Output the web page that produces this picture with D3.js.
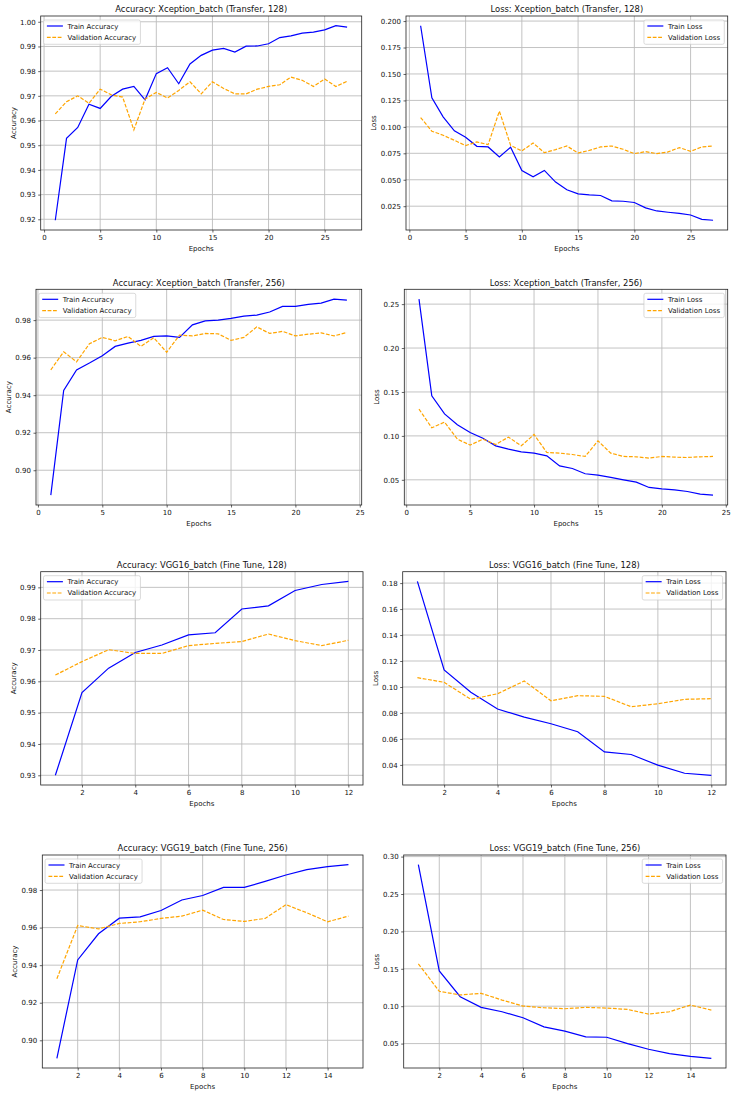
<!DOCTYPE html>
<html>
<head>
<meta charset="utf-8">
<script src="https://cdn.jsdelivr.net/npm/d3@7/dist/d3.min.js"></script>
<style>
  body { margin: 0; background: #fff; }
  text { font-family: "DejaVu Sans", sans-serif; fill: #111; }
</style>
</head>
<body>
<svg id="chart" width="732" height="1096"></svg>
<script>
// ---- values (epoch i+1 -> index i) ----
const xcT128TrainAcc = [0.9196, 0.9528, 0.9572, 0.9666, 0.9649, 0.9698, 0.9727, 0.9738, 0.9684, 0.9790, 0.9814, 0.9749, 0.9829, 0.9864, 0.9885, 0.9892, 0.9877, 0.9901, 0.9902, 0.9911, 0.9936, 0.9943, 0.9954, 0.9958, 0.9967, 0.9984, 0.9978];
const xcT128ValAcc   = [0.9627, 0.9676, 0.9700, 0.9670, 0.9727, 0.9704, 0.9695, 0.9562, 0.9687, 0.9714, 0.9691, 0.9722, 0.9757, 0.9708, 0.9757, 0.9730, 0.9708, 0.9708, 0.9727, 0.9738, 0.9745, 0.9776, 0.9763, 0.9738, 0.9768, 0.9738, 0.9759];
const xcT128TrainLoss = [0.1956, 0.1275, 0.1095, 0.0962, 0.0902, 0.0816, 0.0810, 0.0715, 0.0807, 0.0588, 0.0528, 0.0588, 0.0478, 0.0405, 0.0367, 0.0357, 0.0351, 0.0300, 0.0297, 0.0285, 0.0234, 0.0205, 0.0193, 0.0183, 0.0167, 0.0126, 0.0117];
const xcT128ValLoss   = [0.1088, 0.0959, 0.0921, 0.0873, 0.0823, 0.0857, 0.0832, 0.1149, 0.0826, 0.0772, 0.0848, 0.0756, 0.0785, 0.0819, 0.0753, 0.0778, 0.0810, 0.0819, 0.0788, 0.0747, 0.0766, 0.0747, 0.0763, 0.0804, 0.0769, 0.0810, 0.0819];

const xcT256TrainAcc = [0.8867, 0.9425, 0.9535, 0.9571, 0.9610, 0.9660, 0.9677, 0.9692, 0.9713, 0.9716, 0.9708, 0.9775, 0.9796, 0.9800, 0.9809, 0.9821, 0.9827, 0.9843, 0.9873, 0.9873, 0.9884, 0.9891, 0.9912, 0.9907];
const xcT256ValAcc   = [0.9535, 0.9631, 0.9578, 0.9674, 0.9708, 0.9690, 0.9713, 0.9660, 0.9706, 0.9629, 0.9720, 0.9716, 0.9729, 0.9727, 0.9692, 0.9708, 0.9764, 0.9729, 0.9740, 0.9716, 0.9725, 0.9732, 0.9716, 0.9734];
const xcT256TrainLoss = [0.2557, 0.1456, 0.1251, 0.1126, 0.1039, 0.0974, 0.0887, 0.0849, 0.0819, 0.0804, 0.0773, 0.0659, 0.0629, 0.0569, 0.0553, 0.0527, 0.0500, 0.0473, 0.0413, 0.0397, 0.0386, 0.0367, 0.0337, 0.0325];
const xcT256ValLoss   = [0.1305, 0.1092, 0.1157, 0.0963, 0.0895, 0.0963, 0.0902, 0.0986, 0.0887, 0.1016, 0.0811, 0.0804, 0.0788, 0.0766, 0.0944, 0.0804, 0.0766, 0.0762, 0.0747, 0.0766, 0.0758, 0.0754, 0.0762, 0.0766];

const vgg16TrainAcc = [0.9300, 0.9564, 0.9642, 0.9692, 0.9716, 0.9748, 0.9755, 0.9831, 0.9841, 0.9890, 0.9909, 0.9919];
const vgg16ValAcc   = [0.9620, 0.9663, 0.9701, 0.9689, 0.9689, 0.9714, 0.9721, 0.9727, 0.9751, 0.9730, 0.9714, 0.9731];
const vgg16TrainLoss = [0.1813, 0.1131, 0.0959, 0.0830, 0.0768, 0.0717, 0.0655, 0.0500, 0.0480, 0.0398, 0.0336, 0.0320];
const vgg16ValLoss   = [0.1072, 0.1036, 0.0905, 0.0948, 0.1046, 0.0894, 0.0933, 0.0928, 0.0848, 0.0871, 0.0905, 0.0910];

const vgg19TrainAcc = [0.8904, 0.9428, 0.9567, 0.9650, 0.9657, 0.9691, 0.9747, 0.9771, 0.9814, 0.9814, 0.9846, 0.9880, 0.9909, 0.9925, 0.9935];
const vgg19ValAcc   = [0.9328, 0.9611, 0.9593, 0.9622, 0.9631, 0.9649, 0.9661, 0.9693, 0.9643, 0.9633, 0.9649, 0.9722, 0.9679, 0.9631, 0.9661];
const vgg19TrainLoss = [0.2892, 0.1472, 0.1127, 0.0984, 0.0926, 0.0845, 0.0724, 0.0666, 0.0590, 0.0585, 0.0500, 0.0424, 0.0366, 0.0330, 0.0303];
const vgg19ValLoss   = [0.1566, 0.1199, 0.1150, 0.1172, 0.1082, 0.1002, 0.0979, 0.0966, 0.0984, 0.0975, 0.0957, 0.0894, 0.0926, 0.1015, 0.0948];

// tick values
const xTicksLong = [0, 5, 10, 15, 20, 25];
const xTicks12 = [2, 4, 6, 8, 10, 12];
const xTicks14 = [2, 4, 6, 8, 10, 12, 14];
const yTicksAcc1 = [0.92, 0.93, 0.94, 0.95, 0.96, 0.97, 0.98, 0.99, 1.00];
const yTicksLoss1 = [0.025, 0.050, 0.075, 0.100, 0.125, 0.150, 0.175, 0.200];
const yTicksAcc2 = [0.90, 0.92, 0.94, 0.96, 0.98];
const yTicksLoss2 = [0.05, 0.10, 0.15, 0.20, 0.25];
const yTicksAcc3 = [0.93, 0.94, 0.95, 0.96, 0.97, 0.98, 0.99];
const yTicksLoss3 = [0.04, 0.06, 0.08, 0.10, 0.12, 0.14, 0.16, 0.18];
const yTicksAcc4 = [0.90, 0.92, 0.94, 0.96, 0.98];
const yTicksLoss4 = [0.05, 0.10, 0.15, 0.20, 0.25, 0.30];

const panels = [
  {title: "Accuracy: Xception_batch (Transfer, 128)", ylabel: "Accuracy", train: xcT128TrainAcc, val: xcT128ValAcc, names: ["Train Accuracy", "Validation Accuracy"], xt: xTicksLong, yt: yTicksAcc1, fmt: ".2f", leg: "left"},
  {title: "Loss: Xception_batch (Transfer, 128)", ylabel: "Loss", train: xcT128TrainLoss, val: xcT128ValLoss, names: ["Train Loss", "Validation Loss"], xt: xTicksLong, yt: yTicksLoss1, fmt: ".3f", leg: "right"},
  {title: "Accuracy: Xception_batch (Transfer, 256)", ylabel: "Accuracy", train: xcT256TrainAcc, val: xcT256ValAcc, names: ["Train Accuracy", "Validation Accuracy"], xt: xTicksLong, yt: yTicksAcc2, fmt: ".2f", leg: "left"},
  {title: "Loss: Xception_batch (Transfer, 256)", ylabel: "Loss", train: xcT256TrainLoss, val: xcT256ValLoss, names: ["Train Loss", "Validation Loss"], xt: xTicksLong, yt: yTicksLoss2, fmt: ".2f", leg: "right"},
  {title: "Accuracy: VGG16_batch (Fine Tune, 128)", ylabel: "Accuracy", train: vgg16TrainAcc, val: vgg16ValAcc, names: ["Train Accuracy", "Validation Accuracy"], xt: xTicks12, yt: yTicksAcc3, fmt: ".2f", leg: "left"},
  {title: "Loss: VGG16_batch (Fine Tune, 128)", ylabel: "Loss", train: vgg16TrainLoss, val: vgg16ValLoss, names: ["Train Loss", "Validation Loss"], xt: xTicks12, yt: yTicksLoss3, fmt: ".2f", leg: "right"},
  {title: "Accuracy: VGG19_batch (Fine Tune, 256)", ylabel: "Accuracy", train: vgg19TrainAcc, val: vgg19ValAcc, names: ["Train Accuracy", "Validation Accuracy"], xt: xTicks14, yt: yTicksAcc4, fmt: ".2f", leg: "left"},
  {title: "Loss: VGG19_batch (Fine Tune, 256)", ylabel: "Loss", train: vgg19TrainLoss, val: vgg19ValLoss, names: ["Train Loss", "Validation Loss"], xt: xTicks14, yt: yTicksLoss4, fmt: ".2f", leg: "right"}
];

// axes boxes [left, top, right, bottom]
const boxes = [
  [40.7, 16, 361.7, 230], [406, 16, 727.7, 230],
  [36, 289.3, 361.7, 505], [404.3, 289.3, 727.7, 505],
  [40.7, 571.7, 363, 785], [402.7, 571.7, 726, 785],
  [42.3, 855, 363, 1068], [403.7, 855, 726, 1068]
];

const svg = d3.select("#chart");
svg.append("rect").attr("width", 732).attr("height", 1096).attr("fill", "#fff");

const fs = 7;

panels.forEach((p, i) => {
  const [l, t, r, b] = boxes[i];
  const n = p.train.length;
  const g = svg.append("g");

  const x = d3.scaleLinear()
    .domain([1 - 0.05 * (n - 1), n + 0.05 * (n - 1)])
    .range([l, r]);

  const all = p.train.concat(p.val);
  const lo = d3.min(all), hi = d3.max(all), pad = (hi - lo) * 0.05;
  const y = d3.scaleLinear()
    .domain([lo - pad, hi + pad])
    .range([b, t]);

  // grid
  g.selectAll(".gx").data(p.xt).enter().append("line")
    .attr("x1", d => x(d)).attr("x2", d => x(d))
    .attr("y1", t).attr("y2", b)
    .attr("stroke", "#bcbcbc").attr("stroke-width", 0.9);
  g.selectAll(".gy").data(p.yt).enter().append("line")
    .attr("y1", d => y(d)).attr("y2", d => y(d))
    .attr("x1", l).attr("x2", r)
    .attr("stroke", "#bcbcbc").attr("stroke-width", 0.9);

  // axes
  const xAxis = d3.axisBottom(x).tickValues(p.xt).tickSize(2.5).tickPadding(2.2).tickFormat(d3.format("d"));
  const yAxis = d3.axisLeft(y).tickValues(p.yt).tickSize(2.5).tickPadding(2.6).tickFormat(d3.format(p.fmt));
  const gx = g.append("g").attr("transform", "translate(0," + b + ")").call(xAxis);
  const gy = g.append("g").attr("transform", "translate(" + l + ",0)").call(yAxis);
  [gx, gy].forEach(ax => {
    ax.select(".domain").remove();
    ax.selectAll("line").attr("stroke", "#222").attr("stroke-width", 0.7);
    ax.selectAll("text").attr("font-size", fs).attr("fill", "#111")
      .attr("font-family", "DejaVu Sans, sans-serif");
  });

  // lines
  const line = d3.line().x((d, k) => x(k + 1)).y(d => y(d));
  g.append("path").datum(p.train)
    .attr("d", line).attr("fill", "none")
    .attr("stroke", "#0000ff").attr("stroke-width", 1.2);
  g.append("path").datum(p.val)
    .attr("d", line).attr("fill", "none")
    .attr("stroke", "#ffa500").attr("stroke-width", 1.2)
    .attr("stroke-dasharray", "3.8,1.6");

  // frame
  g.append("rect").attr("x", l).attr("y", t)
    .attr("width", r - l).attr("height", b - t)
    .attr("fill", "none").attr("stroke", "#222").attr("stroke-width", 0.8);

  // title + labels
  g.append("text").attr("x", (l + r) / 2).attr("y", t - 3.8)
    .attr("text-anchor", "middle").attr("font-size", 8.4).text(p.title);
  g.append("text").attr("x", (l + r) / 2).attr("y", b + 21)
    .attr("text-anchor", "middle").attr("font-size", fs).text("Epochs");
  let maxW = 0;
  gy.selectAll("text").each(function () { maxW = Math.max(maxW, this.getComputedTextLength()); });
  const ylx = l - 5.1 - maxW - 4.5;
  g.append("text")
    .attr("transform", "translate(" + ylx + "," + ((t + b) / 2) + ") rotate(-90)")
    .attr("text-anchor", "middle").attr("font-size", fs).text(p.ylabel);

  // legend
  const lg = g.append("g");
  const texts = p.names.map((nm, k) => lg.append("text")
    .attr("font-size", fs).attr("y", 6 + 11.3 * k + 2.5).text(nm));
  const tw = d3.max(texts, tx => tx.node().getComputedTextLength());
  const lw = 3.4 + 16 + 4.6 + tw + 4.2;
  const lx = p.leg === "left" ? l + 2.8 : r - 3.4 - lw;
  const ly = t + 4;
  lg.attr("transform", "translate(" + lx + "," + ly + ")");
  lg.insert("rect", ":first-child")
    .attr("width", lw).attr("height", 24.3).attr("rx", 1.8)
    .attr("fill", "#fff").attr("fill-opacity", 0.8)
    .attr("stroke", "#cccccc").attr("stroke-width", 0.7);
  texts.forEach(tx => tx.attr("x", 3.4 + 16 + 4.6));
  [["#0000ff", null], ["#ffa500", "3.8,1.6"]].forEach(([c, dash], k) => {
    lg.append("line").attr("x1", 3.4).attr("x2", 19.4)
      .attr("y1", 6 + 11.3 * k).attr("y2", 6 + 11.3 * k)
      .attr("stroke", c).attr("stroke-width", 1.2)
      .attr("stroke-dasharray", dash);
  });
});
</script>
</body>
</html>
